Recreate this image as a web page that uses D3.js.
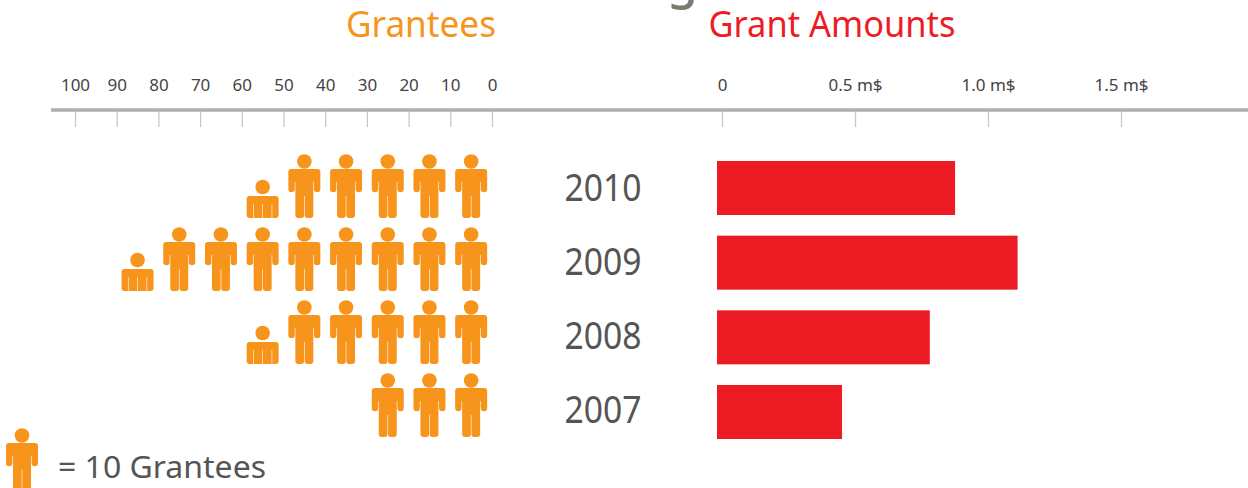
<!DOCTYPE html>
<html>
<head>
<meta charset="utf-8">
<script src="https://cdnjs.cloudflare.com/ajax/libs/d3/7.8.5/d3.min.js"></script>
<style>
html,body{margin:0;padding:0;background:#fff;overflow:hidden;}
text{font-family:"Noto Sans",sans-serif;}
</style>
</head>
<body>
<div id="chart"></div>
<script>
const years = ["2010","2009","2008","2007"];
const grantees = [55,85,55,30];
const amounts = [0.895,1.13,0.8,0.47];
const granteeTicks = [100,90,80,70,60,50,40,30,20,10,0];
const amountTicks = [0,0.5,1.0,1.5];
const amountLabels = ["0","0.5 m$","1.0 m$","1.5 m$"];

const orange = "#f7941e", red = "#ed1c24", grey = "#555";

const svg = d3.select("#chart").append("svg").attr("width",1248).attr("height",488);

// icons are a bit soft in the picture
svg.append("defs").append("filter").attr("id","soft")
  .attr("x","-10%").attr("y","-10%").attr("width","120%").attr("height","120%")
  .append("feGaussianBlur").attr("stdDeviation",0.45);

const xLeft = d3.scaleLinear().domain([0,100]).range([492,75]);
const xRight = d3.scaleLinear().domain([0,1.5]).range([722,1121]);
const yIcon = d3.scalePoint().domain(years).range([218,437]);
const yBar = d3.scalePoint().domain(years).range([188,412]);
const yYear = d3.scalePoint().domain(years).range([201,423]);

// clipped title on top of the picture, only the tail of the letter shows
svg.append("text").attr("x",667).attr("y",-2).attr("font-size",50).attr("font-weight",500).attr("fill","#7d7a70").text("g");

svg.append("text").attr("x",421).attr("y",37).attr("text-anchor","middle")
  .attr("font-size",36).attr("fill",orange).attr("textLength",150).attr("lengthAdjust","spacingAndGlyphs").text("Grantees");
svg.append("text").attr("x",832).attr("y",37).attr("text-anchor","middle")
  .attr("font-size",36).attr("fill",red).attr("textLength",247).attr("lengthAdjust","spacingAndGlyphs").text("Grant Amounts");

// axes
function styleAxis(g){
  g.select(".domain").remove();
  g.selectAll(".tick line").attr("stroke","#c8c8c8").attr("stroke-width",1.3);
  g.selectAll(".tick text").attr("y",-20).attr("dy",0).attr("font-size",17).attr("fill","#444")
    .style("font-family",'"Noto Sans",sans-serif');
}
svg.append("g").attr("transform","translate(0,111)")
  .call(d3.axisBottom(xLeft).tickValues(granteeTicks).tickSize(16))
  .call(styleAxis);
svg.append("g").attr("transform","translate(0,111)")
  .call(d3.axisBottom(xRight).tickValues(amountTicks).tickSize(16).tickFormat((d,i)=>amountLabels[i]))
  .call(styleAxis);
svg.append("line").attr("x1",51).attr("x2",1248).attr("y1",110).attr("y2",110)
  .attr("stroke","#aeaeae").attr("stroke-width",3.5);

// person icon, origin = middle of the feet
const bodyFull = "M-16,-46a3,3 0 0 1 3,-3H13a3,3 0 0 1 3,3V-29a3.2,3.2 0 0 1 -6.4,0V-36H9V-3a3,3 0 0 1 -3,3H3a2.7,2.7 0 0 1 -2.7,-2.7V-22H-0.3V-2.7A2.7,2.7 0 0 1 -3,0H-6a3,3 0 0 1 -3,-3V-36H-9.6V-29a3.2,3.2 0 0 1 -6.4,0Z";
const bodyHalf = "M-16,-19a3,3 0 0 1 3,-3H13a3,3 0 0 1 3,3V-3a3,3 0 0 1 -3,3H9.6V-14H9V0H0.3V-14H-0.3V0H-9V-14H-9.6V0H-13a3,3 0 0 1 -3,-3Z";

function person(sel,x,y,half){
  const g = sel.append("g").attr("transform",`translate(${x},${y})`).attr("fill",orange).attr("filter","url(#soft)");
  g.append("circle").attr("cx",0).attr("cy",half?-31:-56.5).attr("r",7.3);
  g.append("path").attr("d",half?bodyHalf:bodyFull);
}

years.forEach((yr,r)=>{
  const full = Math.floor(grantees[r]/10);
  for(let i=0;i<full;i++){
    person(svg,xLeft(10*i+5),yIcon(yr),false);
  }
  if(grantees[r]%10>0){
    person(svg,xLeft(10*full+5),yIcon(yr),true);
  }
});

// year labels
svg.selectAll(".year").data(years).enter().append("text").attr("class","year")
  .attr("x",603).attr("y",d=>yYear(d)).attr("text-anchor","middle")
  .attr("font-size",38).attr("fill",grey)
  .attr("textLength",77).attr("lengthAdjust","spacingAndGlyphs").text(d=>d);

// bars start a bit left of the zero tick in the picture
const barShift = -5;
svg.selectAll(".bar").data(amounts).enter().append("rect").attr("class","bar")
  .attr("x",xRight(0)+barShift)
  .attr("y",(d,i)=>yBar(years[i])-27)
  .attr("width",d=>xRight(d)-xRight(0))
  .attr("height",54)
  .attr("fill",red);

// legend, cut by the bottom edge
person(svg,22,492,false);
svg.append("text").attr("x",58).attr("y",478).attr("font-size",31).attr("fill",grey)
  .attr("textLength",208).attr("lengthAdjust","spacingAndGlyphs").text("= 10 Grantees");
</script>
</body>
</html>
